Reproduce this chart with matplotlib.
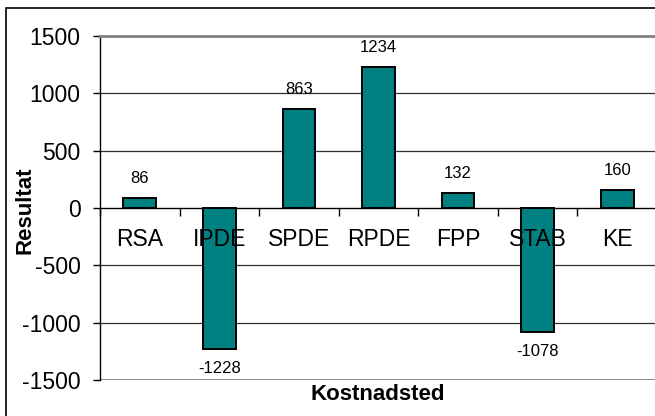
import matplotlib.pyplot as plt
from matplotlib.patches import Rectangle
import numpy as np

plt.rcParams['font.family'] = ['Liberation Sans', 'DejaVu Sans']
plt.rcParams['axes.unicode_minus'] = False

# Result per cost centre
steder = ['RSA', 'IPDE', 'SPDE', 'RPDE', 'FPP', 'STAB', 'KE']
resultat = [86, -1228, 863, 1234, 132, -1078, 160]

fig = plt.figure(figsize=(6.55, 4.16), dpi=100)
W, H = 655, 416

# outer chart frame (runs past the right and bottom edges)
fig.patches.append(Rectangle((6 / W, -0.1), 1.2, 1 - 8 / H + 0.1,
                             transform=fig.transFigure, fill=False,
                             edgecolor='black', linewidth=1.2))

ax = fig.add_axes([100 / W, 1 - 380 / H, 557 / W, 344 / H])
x = np.arange(len(steder))

ax.bar(x, resultat, width=0.41, color='#008080', edgecolor='black',
       linewidth=1.4, zorder=3)

ax.set_xlim(-0.5, len(steder) - 0.5)
ax.set_ylim(-1500, 1500)
ax.set_yticks(range(-1500, 1501, 500))
ax.tick_params(axis='y', direction='out', length=5, width=1,
               labelsize=16.5, pad=9)

# gridlines
for yv in [-1000, -500, 500, 1000]:
    ax.axhline(yv, color='#303030', linewidth=0.9, zorder=1)
ax.axhline(-1500, color='#808080', linewidth=2, zorder=2)

# x axis sits on zero
ax.spines['bottom'].set_position(('data', 0))
ax.spines['bottom'].set_linewidth(1)
ax.spines['left'].set_linewidth(1)
ax.spines['top'].set_color('#808080')
ax.spines['top'].set_linewidth(2)
ax.spines['right'].set_visible(False)
ax.set_xticks(np.arange(len(steder) + 1) - 0.5)
ax.set_xticklabels([])
ax.tick_params(axis='x', direction='out', length=6, width=1)

# category names below the zero line, drawn over the bars
for xi, navn in zip(x, steder):
    ax.annotate(navn, (xi, 0), xytext=(0, -23), textcoords='offset points',
                ha='center', va='center', fontsize=16.5, zorder=5)

# value labels
for xi, v in zip(x, resultat):
    off = 14 if v >= 0 else -14
    ax.annotate(str(v), (xi, v), xytext=(0, off), textcoords='offset points',
                ha='center', va='center', fontsize=12, zorder=5)

fig.text(25 / W, 1 - 210 / H, 'Resultat', rotation=90, ha='center',
         va='center', fontsize=16, fontweight='bold')
fig.text(378 / W, 1 - 395 / H, 'Kostnadsted', ha='center', va='center',
         fontsize=16, fontweight='bold')

fig.savefig('out.png', dpi=100)
